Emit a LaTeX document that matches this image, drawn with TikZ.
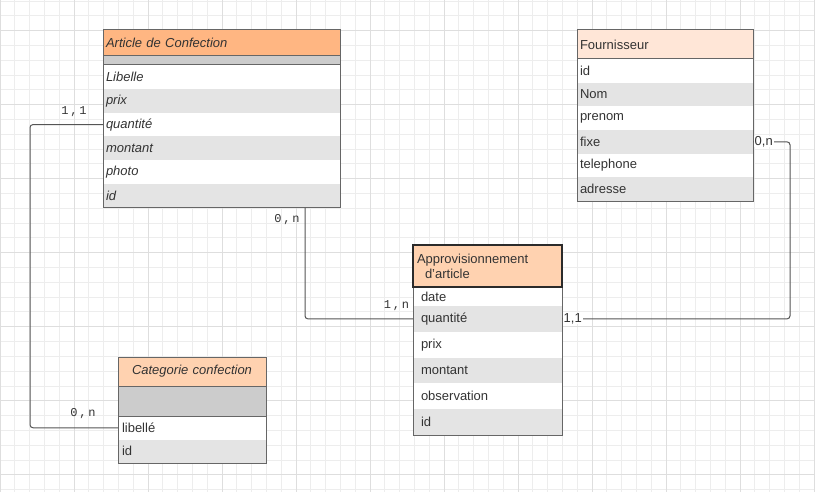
\documentclass[tikz,border=0pt]{standalone}
\usepackage{fontspec}
\setmainfont{Liberation Sans}
\newfontfamily\cardfont{Liberation Mono}[WordSpace=0.25]
\usetikzlibrary{positioning}

\definecolor{ink}{HTML}{333333}
\definecolor{edge}{HTML}{666666}
\definecolor{wire}{HTML}{555555}
\definecolor{hdrdark}{HTML}{FFB682}
\definecolor{hdrpale}{HTML}{FFE6D7}
\definecolor{hdrmid}{HTML}{FFD2B0}
\definecolor{band}{HTML}{CCCCCC}
\definecolor{stripe}{HTML}{E4E4E4}
\definecolor{gridminor}{HTML}{EDEDED}
\definecolor{gridmajor}{HTML}{DEDEDE}

\tikzset{
  cell/.style={rectangle, inner ysep=0pt, outer sep=0pt, align=left, text=ink, font=\fontsize{13}{15}\selectfont},
  slanted/.style={font=\fontsize{13}{15}\selectfont\itshape},
  outline/.style={draw=edge, line width=1pt},
  link/.style={draw=wire, line width=1pt, rounded corners=3pt},
  card/.style={text=ink, inner sep=0pt, font=\cardfont\fontsize{12}{13}\selectfont},
  tag/.style={text=ink, fill=white, inner xsep=1pt, inner ysep=0pt, font=\fontsize{13}{15}\selectfont}
}

\begin{document}
\begin{tikzpicture}[x=1pt,y=-1pt]
  % page and background grid
  \useasboundingbox (0,0) rectangle (815,492);
  \fill[white] (0,0) rectangle (815,492);
  \foreach \gx in {0,14.8,...,815} \draw[gridminor, line width=0.8pt] (\gx,0) -- (\gx,492);
  \foreach \gy in {1.1,15.9,...,492} \draw[gridminor, line width=0.8pt] (0,\gy) -- (815,\gy);
  \foreach \gx in {0,74,...,815} \draw[gridmajor, line width=1pt] (\gx,0) -- (\gx,492);
  \foreach \gy in {30.7,104.7,...,492} \draw[gridmajor, line width=1pt] (0,\gy) -- (815,\gy);

  % Article de Confection
  \node[cell, slanted, fill=hdrdark, inner xsep=3pt, text width=231pt, minimum height=26pt, anchor=north west] (art-h) at (103,30) {Article de Confection};
  \node[cell, fill=band, minimum width=237pt, minimum height=9pt, below=0pt of art-h] (art-0) {};
  \foreach \lbl [count=\i] in {Libelle,prix,quantité,montant,photo,id} {
    \pgfmathtruncatemacro\j{\i-1}
    \ifodd\i\def\rowfill{white}\else\def\rowfill{stripe}\fi
    \node[cell, slanted, fill=\rowfill, inner xsep=3pt, text width=231pt, minimum height=23.83pt, below=0pt of art-\j] (art-\i) {\lbl};
  }

  % Fournisseur
  \node[cell, fill=hdrpale, inner xsep=3pt, text width=170pt, minimum height=29pt, anchor=north west] (four-0) at (577,30) {Fournisseur};
  \foreach \lbl [count=\i] in {id,Nom,prenom,fixe,telephone,adresse} {
    \pgfmathtruncatemacro\j{\i-1}
    \ifodd\i\def\rowfill{white}\else\def\rowfill{stripe}\fi
    \node[cell, fill=\rowfill, inner xsep=3pt, text width=170pt, minimum height=23.67pt, below=0pt of four-\j] (four-\i) {\lbl};
  }

  % Approvisionnement d'article
  \node[cell, fill=hdrmid, inner xsep=4pt, text width=141pt, minimum height=42pt, anchor=north west] (apr-0) at (413,245) {Approvisionnement\\\hspace*{8pt}d'article};
  \foreach \lbl [count=\i] in {date,quantité,prix,montant,observation,id} {
    \pgfmathtruncatemacro\j{\i-1}
    \ifodd\i\def\rowfill{white}\else\def\rowfill{stripe}\fi
    \ifnum\i=1\def\rowh{19pt}\else\def\rowh{25.8pt}\fi
    \node[cell, fill=\rowfill, inner xsep=8pt, text width=133pt, minimum height=\rowh, below=0pt of apr-\j] (apr-\i) {\lbl};
  }

  % Categorie confection
  \node[cell, slanted, fill=hdrmid, inner xsep=4pt, text width=140pt, align=center, minimum height=29pt, anchor=north west] (cat-h) at (118,357) {Categorie confection};
  \node[cell, fill=band, minimum width=148pt, minimum height=30pt, below=0pt of cat-h] (cat-0) {};
  \foreach \lbl [count=\i] in {libellé,id} {
    \pgfmathtruncatemacro\j{\i-1}
    \ifodd\i\def\rowfill{white}\else\def\rowfill{stripe}\fi
    \node[cell, fill=\rowfill, inner xsep=4pt, text width=140pt, minimum height=23.5pt, below=0pt of cat-\j] (cat-\i) {\lbl};
  }

  % table borders
  \draw[outline] (art-h.north west) rectangle (art-6.south east);
  \draw[outline] (art-h.south west) -- (art-h.south east);
  \draw[outline] (art-0.south west) -- (art-0.south east);
  \draw[outline] (four-0.north west) rectangle (four-6.south east);
  \draw[outline] (four-0.south west) -- (four-0.south east);
  \draw[outline] (apr-1.north west) -- (apr-6.south west) -- (apr-6.south east) -- (apr-1.north east);
  \draw[draw=ink!85!black, line width=2.2pt] (apr-0.north west) rectangle (apr-0.south east);
  \draw[outline] (cat-h.north west) rectangle (cat-2.south east);
  \draw[outline] (cat-h.south west) -- (cat-h.south east);
  \draw[outline] (cat-0.south west) -- (cat-0.south east);

  % connectors
  \coordinate (railL) at (30,0);
  \coordinate (railM) at (305,0);
  \coordinate (railR) at (790,0);
  \coordinate (dropM) at (art-6.south -| railM);
  \draw[link] (art-3.west) -| (railL |- cat-1.west) -- (cat-1.west);
  \draw[link] (dropM) |- (apr-2.west);
  \draw[link] (four-4.east) -| (railR |- apr-2.east) -- (apr-2.east);

  % cardinalities
  \node[card] (c-art-cat) at ([xshift=-29pt,yshift=13pt]art-3.west) {1 , 1};
  \node[card] (c-cat-art) at ([xshift=-35pt,yshift=14pt]cat-1.west) {0 , n};
  \node[card] (c-art-apr) at ([xshift=-18pt,yshift=-11.5pt]dropM) {0 , n};
  \node[card] (c-apr-art) at ([xshift=-16.5pt,yshift=13pt]apr-2.west) {1 , n};
  \node[tag, anchor=west] (c-four-apr) at ([xshift=0.5pt]four-4.east) {0,n};
  \node[tag, anchor=west] (c-apr-four) at ([xshift=0.5pt]apr-2.east) {1,1};
\end{tikzpicture}
\end{document}
